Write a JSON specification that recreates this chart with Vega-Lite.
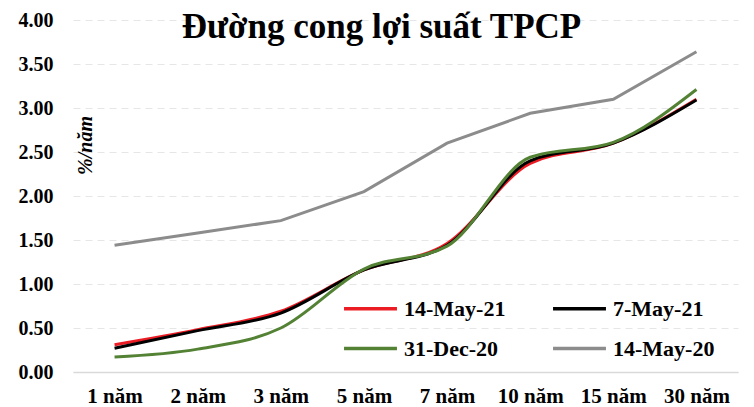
{
  "$schema": "https://vega.github.io/schema/vega-lite/v6.json",
  "width": 665,
  "height": 352,
  "autosize": {"type": "none"},
  "padding": {"left": 73, "top": 20, "right": 16, "bottom": 35},
  "background": "white",
  "config": {"view": {"stroke": null}, "font": "'Liberation Serif', 'Times New Roman', serif"},
  "title": {
    "text": "Đường cong lợi suất TPCP",
    "font": "'Liberation Serif', 'Times New Roman', serif",
    "fontSize": 35,
    "fontWeight": "bold",
    "color": "#000000",
    "anchor": "middle",
    "frame": "group",
    "baseline": "alphabetic",
    "offset": 0,
    "dy": 63,
    "dx": -24
  },
  "data": {
    "values": [
      {"term": "1 năm", "series": "14-May-21", "value": 0.31},
      {"term": "2 năm", "series": "14-May-21", "value": 0.48},
      {"term": "3 năm", "series": "14-May-21", "value": 0.69},
      {"term": "5 năm", "series": "14-May-21", "value": 1.16},
      {"term": "7 năm", "series": "14-May-21", "value": 1.46},
      {"term": "10 năm", "series": "14-May-21", "value": 2.37},
      {"term": "15 năm", "series": "14-May-21", "value": 2.6},
      {"term": "30 năm", "series": "14-May-21", "value": 3.1},
      {"term": "1 năm", "series": "7-May-21", "value": 0.27},
      {"term": "2 năm", "series": "7-May-21", "value": 0.47},
      {"term": "3 năm", "series": "7-May-21", "value": 0.67},
      {"term": "5 năm", "series": "7-May-21", "value": 1.16},
      {"term": "7 năm", "series": "7-May-21", "value": 1.44},
      {"term": "10 năm", "series": "7-May-21", "value": 2.4},
      {"term": "15 năm", "series": "7-May-21", "value": 2.6},
      {"term": "30 năm", "series": "7-May-21", "value": 3.09},
      {"term": "1 năm", "series": "31-Dec-20", "value": 0.17},
      {"term": "2 năm", "series": "31-Dec-20", "value": 0.26},
      {"term": "3 năm", "series": "31-Dec-20", "value": 0.5},
      {"term": "5 năm", "series": "31-Dec-20", "value": 1.17},
      {"term": "7 năm", "series": "31-Dec-20", "value": 1.43},
      {"term": "10 năm", "series": "31-Dec-20", "value": 2.44},
      {"term": "15 năm", "series": "31-Dec-20", "value": 2.61},
      {"term": "30 năm", "series": "31-Dec-20", "value": 3.21},
      {"term": "1 năm", "series": "14-May-20", "value": 1.44},
      {"term": "2 năm", "series": "14-May-20", "value": 1.58},
      {"term": "3 năm", "series": "14-May-20", "value": 1.72},
      {"term": "5 năm", "series": "14-May-20", "value": 2.05},
      {"term": "7 năm", "series": "14-May-20", "value": 2.6},
      {"term": "10 năm", "series": "14-May-20", "value": 2.94},
      {"term": "15 năm", "series": "14-May-20", "value": 3.1},
      {"term": "30 năm", "series": "14-May-20", "value": 3.64}
    ]
  },
  "encoding": {
    "x": {
      "field": "term",
      "type": "ordinal",
      "sort": ["1 năm", "2 năm", "3 năm", "5 năm", "7 năm", "10 năm", "15 năm", "30 năm"],
      "scale": {"type": "point", "padding": 0.5},
      "axis": {
        "title": null,
        "labelAngle": 0,
        "ticks": false,
        "grid": false,
        "domain": true,
        "domainColor": "#d9d9d9",
        "domainWidth": 1.5,
        "labelFont": "'Liberation Serif', 'Times New Roman', serif",
        "labelFontSize": 21,
        "labelFontWeight": "bold",
        "labelColor": "#000000",
        "labelPadding": 13
      }
    },
    "y": {
      "field": "value",
      "type": "quantitative",
      "scale": {"domain": [0, 4], "nice": false, "zero": true},
      "axis": {
        "title": "%/năm",
        "titleFont": "'Liberation Serif', 'Times New Roman', serif",
        "titleFontSize": 20,
        "titleFontWeight": "bold",
        "titleFontStyle": "italic",
        "titleColor": "#000000",
        "titleX": 12,
        "titleY": 125,
        "titleBaseline": "middle",
        "titleAngle": -90,
        "values": [0, 0.5, 1, 1.5, 2, 2.5, 3, 3.5, 4],
        "format": ".2f",
        "ticks": false,
        "domain": false,
        "grid": true,
        "gridColor": "#e6e6e6",
        "gridDash": [7, 5],
        "gridWidth": 1,
        "labelFont": "'Liberation Serif', 'Times New Roman', serif",
        "labelFontSize": 20,
        "labelFontWeight": "bold",
        "labelColor": "#000000",
        "labelPadding": 20
      }
    },
    "color": {
      "field": "series",
      "type": "nominal",
      "scale": {
        "domain": ["14-May-21", "7-May-21", "31-Dec-20", "14-May-20"],
        "range": ["#ec1c24", "#000000", "#548235", "#8c8c8c"]
      },
      "legend": {
        "title": null,
        "orient": "none",
        "direction": "horizontal",
        "legendX": 269,
        "legendY": 260,
        "columns": 2,
        "symbolType": "stroke",
        "symbolSize": 2800,
        "symbolStrokeWidth": 3.5,
        "labelFont": "'Liberation Serif', 'Times New Roman', serif",
        "labelFontSize": 22,
        "labelFontWeight": "bold",
        "labelColor": "#000000",
        "labelOffset": 5,
        "columnPadding": 40,
        "rowPadding": -14,
        "padding": 0
      }
    }
  },
  "layer": [
    {
      "transform": [{"filter": "datum.series == '14-May-20'"}],
      "mark": {"type": "line", "strokeWidth": 3, "interpolate": "linear"}
    },
    {
      "transform": [{"filter": "datum.series != '14-May-20'"}],
      "mark": {"type": "line", "strokeWidth": 3, "interpolate": "monotone"}
    }
  ]
}
